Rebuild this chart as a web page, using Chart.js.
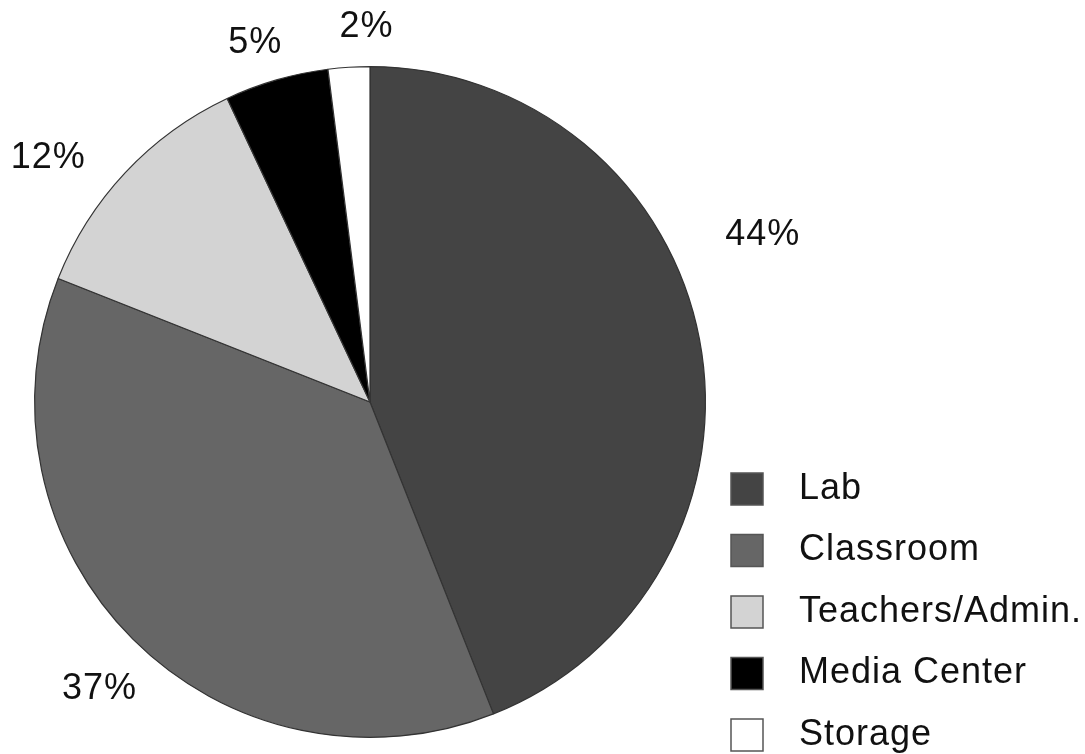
<!DOCTYPE html>
<html>
<head>
<meta charset="utf-8">
<script src="https://cdn.jsdelivr.net/npm/chart.js@4"></script>
<style>
  html, body { margin: 0; padding: 0; background: #fff; }
  #wrap { width: 1085px; height: 754px; }
</style>
</head>
<body>
<div id="wrap"><canvas id="spaceChart"></canvas></div>
<script>
// ===================================
// DATA
// ===================================
const categories = ['Lab', 'Classroom', 'Teachers/Admin.', 'Media Center', 'Storage'];
const shares = [44, 37, 12, 5, 2];
const sliceColors = ['#444444', '#666666', '#d3d3d3', '#000000', '#ffffff'];

// nudges for the percent labels, relative to the mid-angle anchor
const labelNudges = [[24, -97], [-5, 22], [-48, 13], [-10, 2], [20, 0]];

const FONT = '36px "Liberation Sans", Arial, Helvetica, sans-serif';

// percent labels placed around the pie
const percentLabels = {
    id: 'percentLabels',
    afterDatasetsDraw(chart) {
        const { ctx } = chart;
        const arcs = chart.getDatasetMeta(0).data;
        ctx.save();
        ctx.font = FONT;
        ctx.letterSpacing = '1px';
        ctx.fillStyle = '#111';
        ctx.textAlign = 'center';
        ctx.textBaseline = 'middle';
        arcs.forEach((arc, i) => {
            const mid = (arc.startAngle + arc.endAngle) / 2;
            const r = arc.outerRadius + 40;
            const x = arc.x + Math.cos(mid) * r + labelNudges[i][0];
            const y = arc.y + Math.sin(mid) * r + labelNudges[i][1];
            ctx.fillText(shares[i] + '%', x, y);
        });
        ctx.restore();
    }
};

// legend block in the lower right corner
const boxLegend = {
    id: 'boxLegend',
    afterDraw(chart) {
        const { ctx } = chart;
        const left = 731, top = 473, box = 32, step = 61.5;
        ctx.save();
        ctx.font = FONT;
        ctx.letterSpacing = '1px';
        ctx.textBaseline = 'middle';
        categories.forEach((name, i) => {
            const y = top + i * step;
            ctx.fillStyle = sliceColors[i];
            ctx.fillRect(left, y, box, box);
            ctx.strokeStyle = '#555';
            ctx.lineWidth = 1.5;
            ctx.strokeRect(left, y, box, box);
            ctx.fillStyle = '#111';
            ctx.fillText(name, 799, y + box / 2);
        });
        ctx.restore();
    }
};

const ctx = document.getElementById('spaceChart');
new Chart(ctx, {
    type: 'pie',
    data: {
        labels: categories,
        datasets: [{
            data: shares,
            backgroundColor: sliceColors,
            borderColor: '#333333',
            borderWidth: 1.2
        }]
    },
    options: {
        responsive: true,
        maintainAspectRatio: false,
        animation: false,
        layout: { padding: { top: 66, bottom: 16, left: 34, right: 379 } },
        plugins: {
            legend: { display: false },
            tooltip: { enabled: false }
        }
    },
    plugins: [percentLabels, boxLegend]
});
</script>
</body>
</html>
